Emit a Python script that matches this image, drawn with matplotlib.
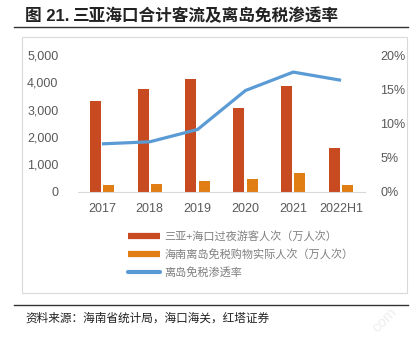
import numpy as np
import matplotlib.pyplot as plt
from matplotlib.lines import Line2D

plt.rcParams['font.family'] = ['Liberation Sans', 'Noto Sans CJK SC', 'DejaVu Sans']

years = ['2017', '2018', '2019', '2020', '2021', '2022H1']
tourists = [3320, 3770, 4110, 3050, 3855, 1590]   # 三亚+海口过夜游客人次（万人次）
shoppers = [235, 280, 380, 455, 675, 255]          # 海南离岛免税购物实际人次（万人次）
penetration = [0.070, 0.073, 0.091, 0.148, 0.175, 0.163]

red = '#C84A21'
orange = '#E07E14'
blue = '#5B9BD5'
grey = '#595959'

fig = plt.figure(figsize=(4.2, 3.42), dpi=100)

# page decoration: title, rules, frame, source
fig.text(25/420, 1 - 16/342, '图 21.', fontsize=12, fontweight='bold', color='#222222',
         va='center', ha='left', family=['Liberation Sans', 'Noto Sans CJK SC'])
fig.text(73/420, 1 - 16/342, '三亚海口合计客流及离岛免税渗透率', fontsize=12, fontweight='bold',
         color='#222222', va='center', ha='left', family=['Noto Sans CJK SC'])
fig.add_artist(Line2D([14/420, 408/420], [1 - 27/342, 1 - 27/342], color='#333333', lw=1))
fig.add_artist(plt.Rectangle((22/420, 1 - 293/342), 385/420, 256/342, fill=False,
                             edgecolor='#D9D9D9', lw=0.8, transform=fig.transFigure))
fig.add_artist(Line2D([14/420, 408/420], [1 - 305/342, 1 - 305/342], color='#333333', lw=1))
fig.text(25/420, 1 - 318/342, '资料来源：海南省统计局，海口海关，红塔证券', fontsize=8.4,
         color='#222222', va='center', ha='left', family=['Noto Sans CJK SC'])
fig.text(385/420, 1 - 320/342, 'com', fontsize=11, color='#EEEEEE', rotation=45,
         va='center', ha='center')

ax = fig.add_axes([78/420, 1 - 191.7/342, 287/420, 136.7/342])
x = np.arange(len(years))
w = 0.23
ax.bar(x - 0.14, tourists, width=w, color=red, label='三亚+海口过夜游客人次（万人次）')
ax.bar(x + 0.14, shoppers, width=w, color=orange, label='海南离岛免税购物实际人次（万人次）')
ax.set_ylim(0, 5000)
ax.set_yticks(np.arange(0, 5001, 1000))
ax.set_yticklabels([f'{v:,}' for v in range(0, 5001, 1000)])
ax.set_xlim(-0.5, len(years) - 0.5)
ax.set_xticks(x)
ax.set_xticklabels(years)

ax2 = ax.twinx()
ax2.plot(x, penetration, color=blue, lw=2.3, solid_capstyle='butt', label='离岛免税渗透率')
ax2.set_ylim(0, 0.2)
ax2.set_yticks(np.arange(0, 0.21, 0.05))
ax2.set_yticklabels([f'{int(round(v*100))}%' for v in np.arange(0, 0.21, 0.05)])

for a in (ax, ax2):
    for s in a.spines.values():
        s.set_visible(False)
    a.tick_params(length=0, labelsize=9, labelcolor=grey)
ax.spines['bottom'].set_visible(True)
ax.spines['bottom'].set_color('#D9D9D9')
ax.tick_params(axis='x', pad=8)
ax.tick_params(axis='y', pad=14)
ax2.tick_params(axis='y', pad=11)

handles = [Line2D([], [], color=red, lw=4.5, solid_capstyle='butt'),
           Line2D([], [], color=orange, lw=4.5, solid_capstyle='butt'),
           Line2D([], [], color=blue, lw=3, solid_capstyle='round')]
labels = ['三亚+海口过夜游客人次（万人次）', '海南离岛免税购物实际人次（万人次）', '离岛免税渗透率']
fig.legend(handles, labels, loc='upper left', bbox_to_anchor=(118/420, 1 - 221/342),
           frameon=False, handlelength=2.9, handletextpad=0.4, labelspacing=0.65,
           prop={'family': ['Noto Sans CJK SC'], 'size': 8}, labelcolor='#7F7F7F')

fig.savefig('out.png', dpi=100)
